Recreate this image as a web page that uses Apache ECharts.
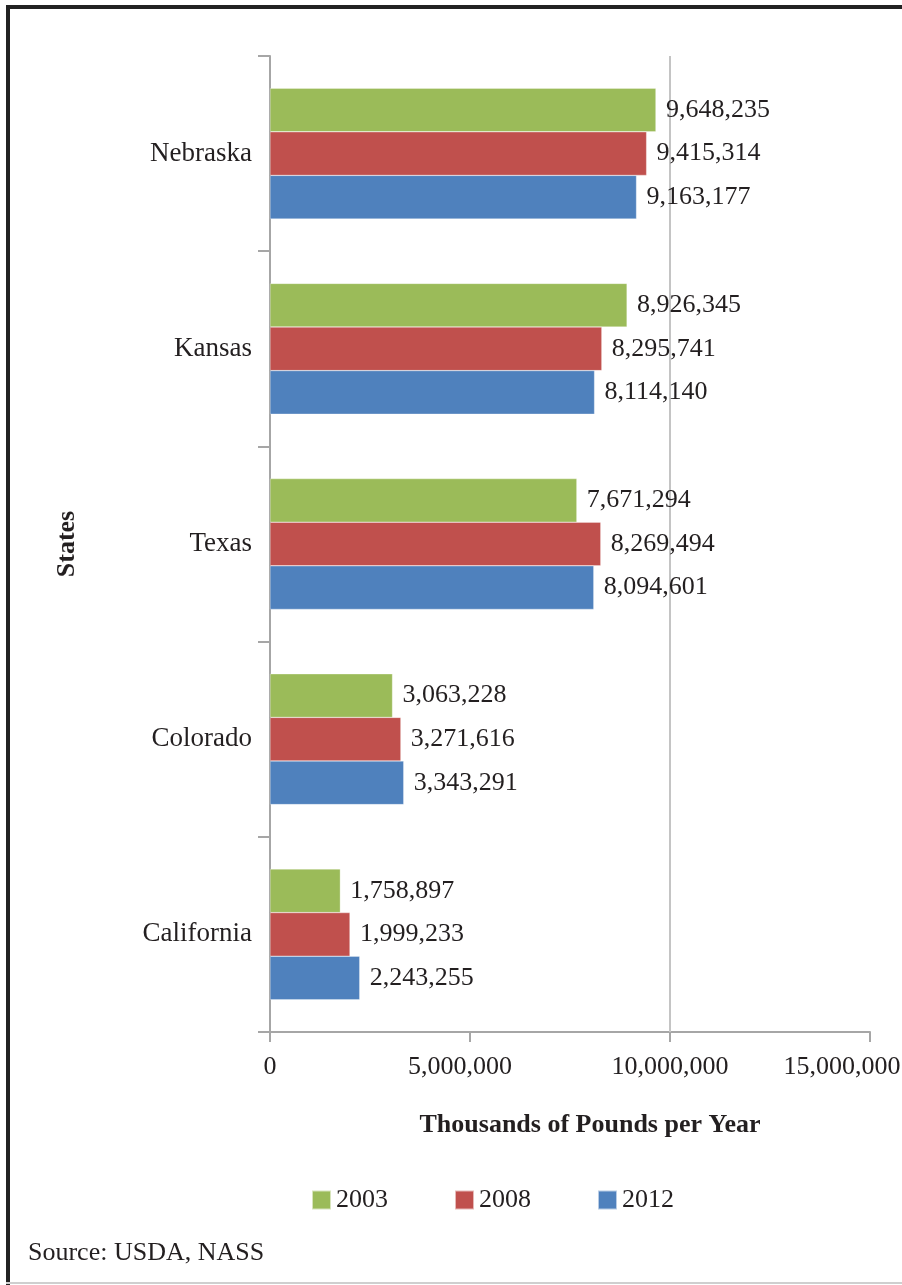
<!DOCTYPE html>
<html>
<head>
<meta charset="utf-8">
<script src="https://cdn.jsdelivr.net/npm/echarts@6/dist/echarts.min.js"></script>
<style>
html,body{margin:0;padding:0;background:#fff;}
#c{width:902px;height:1285px;}
</style>
</head>
<body>
<div id="c"></div>
<script>
var states = ['Nebraska', 'Kansas', 'Texas', 'Colorado', 'California'];
var years = ['2003', '2008', '2012'];
var v2003 = [9648235, 8926345, 7671294, 3063228, 1758897];
var v2008 = [9415314, 8295741, 8269494, 3271616, 1999233];
var v2012 = [9163177, 8114140, 8094601, 3343291, 2243255];
var xTicks = [0, 5000000, 10000000, 15000000];
var colors = ['#9BBB59', '#C0504D', '#4F81BD'];

var FONT = '"Liberation Serif", "DejaVu Serif", serif';
function fmt(v){ return Number(v).toLocaleString('en-US'); }

var chart = echarts.init(document.getElementById('c'), null, {renderer:'canvas'});
var seriesData = [v2003, v2008, v2012];
var series = seriesData.map(function(d, i){
  var s = {
    name: years[i],
    type: 'bar',
    data: d,
    barGap: '0%',
    barCategoryGap: '33%',
    itemStyle: {color: colors[i], borderColor: 'rgba(255,255,255,0.6)', borderWidth: 0.5},
    label: {
      show: true, position: 'right', distance: 10,
      formatter: function(p){ return fmt(p.value); },
      fontFamily: FONT, fontSize: 26, color: '#231f20'
    },
    emphasis: {disabled: true}
  };
  if (i === 0) {
    s.markLine = {
      silent: true, symbol: 'none', label: {show: false},
      lineStyle: {color: '#c4c4c4', width: 2, type: 'solid'},
      data: [{xAxis: xTicks[2]}],
      z: 1
    };
  }
  return s;
});

var axLabelStyle = {fontFamily: FONT, fontSize: 26, color: '#231f20'};

chart.setOption({
  animation: false,
  color: colors,
  grid: {left: 270, top: 56, right: 32, bottom: 253, containLabel: false, outerBoundsMode: 'none'},
  legend: {
    data: years,
    bottom: 67,
    left: 306,
    itemWidth: 19, itemHeight: 19, itemGap: 66,
    icon: 'rect',
    textStyle: {fontFamily: FONT, fontSize: 26, color: '#231f20', padding: [0,0,0,0]}
  },
  xAxis: {
    type: 'value',
    min: 0, max: 15000000, interval: 5000000,
    name: 'Thousands of Pounds per Year',
    nameLocation: 'middle', nameGap: 80,
    nameTextStyle: {fontFamily: FONT, fontSize: 26, fontWeight: 'bold', color: '#231f20', padding: [0,0,0,40]},
    axisLine: {show: true, lineStyle: {color: '#a6a6a6', width: 2}},
    axisTick: {show: true, length: 10, lineStyle: {color: '#a6a6a6', width: 2}},
    axisLabel: {
      fontFamily: FONT, fontSize: 26, color: '#231f20', margin: 22,
      formatter: function(v){
        if (v === xTicks[3]) return '{r|' + fmt(v) + '}';
        if (v === xTicks[1]) return '{f|' + fmt(v) + '}';
        return fmt(v);
      },
      rich: {
        r: Object.assign({padding: [0, 56, 0, 0]}, axLabelStyle),
        f: Object.assign({padding: [0, 20, 0, 0]}, axLabelStyle)
      }
    },
    splitLine: {show: false}
  },
  yAxis: {
    type: 'category',
    data: states,
    inverse: true,
    name: 'States',
    nameLocation: 'middle', nameGap: 190, nameRotate: 90,
    nameTextStyle: {fontFamily: FONT, fontSize: 26, fontWeight: 'bold', color: '#231f20'},
    axisLine: {show: true, lineStyle: {color: '#a6a6a6', width: 2}},
    axisTick: {show: true, length: 12, lineStyle: {color: '#a6a6a6', width: 2}},
    axisLabel: {fontFamily: FONT, fontSize: 27, color: '#231f20', margin: 18}
  },
  graphic: [
    {type: 'rect', shape: {x: 6, y: 5, width: 896, height: 4}, style: {fill: '#222'}, silent: true},
    {type: 'rect', shape: {x: 6, y: 5, width: 4, height: 1280}, style: {fill: '#222'}, silent: true},
    {type: 'rect', shape: {x: 6, y: 1282, width: 896, height: 2}, style: {fill: '#cfcfcf'}, silent: true},
    {type: 'text', left: 28, top: 1240, style: {text: 'Source: USDA, NASS', font: '26px ' + FONT, fill: '#231f20'}, silent: true}
  ],
  series: series
});
</script>
</body>
</html>
